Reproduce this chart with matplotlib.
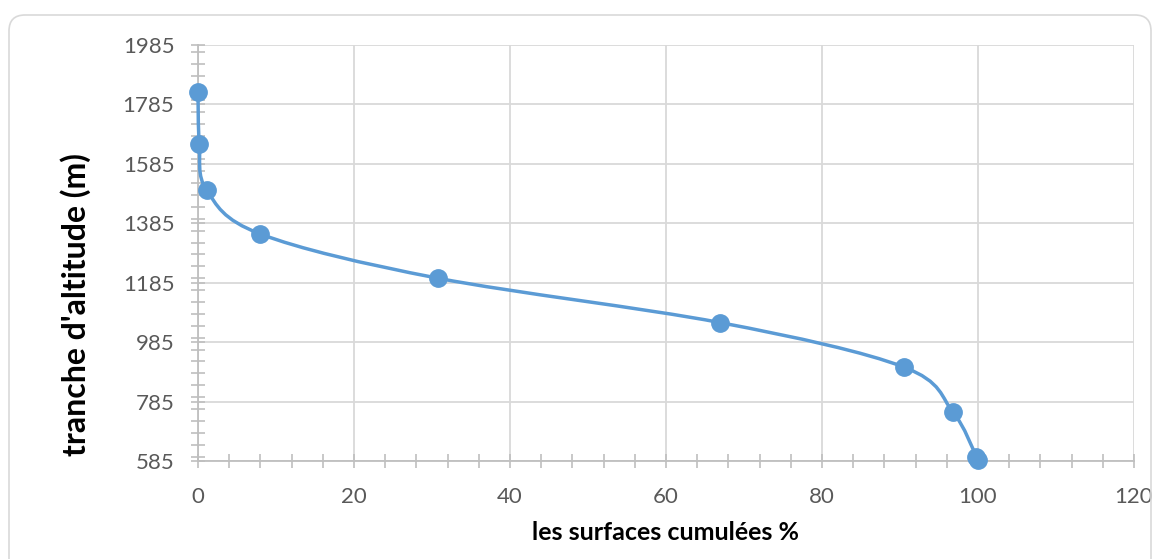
import numpy as np
import matplotlib
matplotlib.use("Agg")
from matplotlib import pyplot as plt
from matplotlib.path import Path
from matplotlib.patches import PathPatch, FancyBboxPatch
from matplotlib.ticker import MultipleLocator
from matplotlib.transforms import IdentityTransform

# data
surfaces = [0.0, 0.17, 1.1, 8.0, 30.8, 66.9, 90.5, 96.8, 99.8, 100.0]
altitude = [1828, 1651, 1497, 1349, 1200, 1051, 901, 749, 600, 587]

x_ticks = [0, 20, 40, 60, 80, 100, 120]
y_ticks = [585, 785, 985, 1185, 1385, 1585, 1785, 1985]

BLUE = "#5B9BD5"
GRID = "#D9D9D9"
AXIS = "#BFBFBF"
TXT = "#595959"

plt.rcParams['font.family'] = ['Lato', 'DejaVu Sans']

fig = plt.figure(figsize=(11.57, 5.59), dpi=100)
ax = fig.add_axes([198/1157, 1-461/559, (1134-198)/1157, (461-45)/559])

# rounded chart frame
frame = FancyBboxPatch((9, -20), 1142, 559-15+20, boxstyle="round,pad=0,rounding_size=16",
                       transform=IdentityTransform(), facecolor="none", edgecolor="#D9D9D9",
                       linewidth=1.2, zorder=0)
fig.patches.append(frame)

# smoothed line (catmull-rom -> bezier, like excel's smooth line)
xs = np.array(surfaces, dtype=float)
ys = np.array(altitude, dtype=float)
n = len(xs)
verts = [(xs[0], ys[0])]
codes = [Path.MOVETO]
for i in range(n - 1):
    p0 = np.array([xs[max(i-1, 0)], ys[max(i-1, 0)]])
    p1 = np.array([xs[i], ys[i]])
    p2 = np.array([xs[i+1], ys[i+1]])
    p3 = np.array([xs[min(i+2, n-1)], ys[min(i+2, n-1)]])
    c1 = p1 + (p2 - p0) / 6.0
    c2 = p2 - (p3 - p1) / 6.0
    verts += [tuple(c1), tuple(c2), tuple(p2)]
    codes += [Path.CURVE4] * 3
ax.add_patch(PathPatch(Path(verts, codes), facecolor="none", edgecolor=BLUE,
                       linewidth=2.5, zorder=3, capstyle="round", clip_on=False))
ax.plot(surfaces, altitude, "o", color=BLUE, markersize=12.5, zorder=4, clip_on=False)

ax.set_xlim(0, 120)
ax.set_ylim(585, 1985)
ax.set_xticks(x_ticks)
ax.set_yticks(y_ticks)
ax.xaxis.set_minor_locator(MultipleLocator(4))
ax.yaxis.set_minor_locator(MultipleLocator(40))
ax.grid(True, which="major", color=GRID, linewidth=1.3)
ax.set_axisbelow(True)

for s in ["top", "right"]:
    ax.spines[s].set_visible(False)
for s in ["left", "bottom"]:
    ax.spines[s].set_color(AXIS)
    ax.spines[s].set_linewidth(1.3)

ax.tick_params(which="both", direction="inout", color=AXIS, width=1.2, labelcolor=TXT, labelsize=16)
ax.tick_params(which="major", length=10)
ax.tick_params(which="minor", length=10)
ax.tick_params(axis="x", pad=14)
ax.tick_params(axis="y", pad=12)

ax.set_xlabel("les surfaces cumulées %", fontsize=18, fontweight="bold", labelpad=10)
ax.set_ylabel("tranche d'altitude (m)", fontsize=23, fontweight="bold")
ax.yaxis.set_label_coords(-0.114, 0.375)

fig.savefig("out.png", dpi=100)
